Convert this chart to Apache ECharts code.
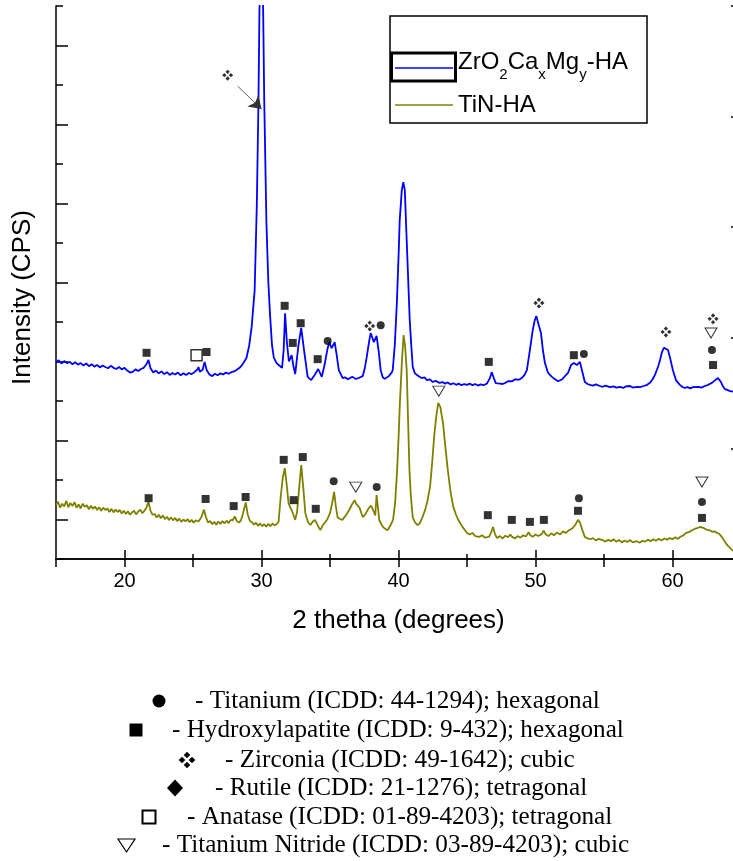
<!DOCTYPE html>
<html>
<head>
<meta charset="utf-8">
<script src="https://cdn.jsdelivr.net/npm/echarts@6/dist/echarts.min.js"></script>
<style>
html, body { margin: 0; padding: 0; background: #fff; width: 733px; height: 861px; overflow: hidden; }
/* the plot frame continues a few pixels past the right edge of the picture */
#chart { width: 741px; height: 861px; }
</style>
</head>
<body>
<div id="chart"></div>
<script>
// tick positions of the 2 theta axis
var xMajorTicks = [20, 30, 40, 50, 60];
var xMinorTicks = [25, 35, 45, 55];

// [2 theta, intensity], arbitrary intensity units
var zrPattern = [
  [15.0,4.98],[15.2,5.03],[15.4,4.95],[15.6,5.01],[15.8,4.96],[16.0,4.99],[16.2,4.93],[16.4,4.98],[16.6,4.92],[16.8,4.96],
  [17.0,4.90],[17.2,4.95],[17.4,4.88],[17.6,4.93],[17.8,4.87],[18.0,4.91],[18.2,4.85],[18.4,4.90],[18.6,4.86],[18.8,4.83],
  [19.0,4.89],[19.2,4.84],[19.4,4.81],[19.6,4.86],[19.8,4.80],[20.0,4.84],[20.2,4.77],[20.4,4.72],[20.6,4.74],[20.8,4.80],
  [21.0,4.76],[21.2,4.81],[21.4,4.84],[21.6,4.93],[21.75,5.04],[21.9,4.83],[22.1,4.72],[22.3,4.77],[22.5,4.70],[22.7,4.75],
  [22.9,4.68],[23.1,4.73],[23.3,4.66],[23.5,4.71],[23.7,4.67],[23.9,4.72],[24.1,4.65],[24.3,4.70],[24.5,4.66],[24.7,4.71],
  [24.9,4.68],[25.1,4.73],[25.3,4.79],[25.4,4.86],[25.5,4.74],[25.7,4.79],[25.85,4.99],[26.0,4.78],[26.2,4.67],[26.4,4.63],
  [26.6,4.69],[26.8,4.65],[27.0,4.70],[27.2,4.67],[27.4,4.72],[27.6,4.69],[27.8,4.73],[28.0,4.75],[28.2,4.79],[28.4,4.84],
  [28.6,4.92],[28.9,5.09],[29.1,5.40],[29.28,5.87],[29.5,6.80],[29.66,9.00],[29.78,11.6],[29.85,13.9],[30.0,15.5],[30.12,13.9],
  [30.2,11.6],[30.36,8.50],[30.5,7.00],[30.62,6.20],[30.77,5.40],[30.9,5.10],[31.1,4.96],[31.3,4.90],[31.5,4.84],[31.62,5.30],
  [31.72,6.22],[31.85,5.50],[32.0,5.00],[32.06,4.99],[32.2,5.16],[32.32,4.90],[32.46,4.68],[32.7,5.42],[32.9,5.85],[33.1,5.30],
  [33.37,4.61],[33.63,4.53],[33.88,4.66],[34.14,4.81],[34.4,4.61],[34.6,4.91],[34.8,5.29],[34.94,5.49],[35.12,5.34],[35.34,5.49],
  [35.49,5.16],[35.64,4.78],[35.93,4.58],[36.1,4.60],[36.3,4.55],[36.5,4.59],[36.66,4.61],[36.85,4.56],[37.02,4.57],[37.2,4.60],
  [37.39,4.63],[37.55,4.85],[37.68,5.11],[37.87,5.54],[37.97,5.72],[38.2,5.49],[38.4,5.65],[38.56,5.24],[38.7,4.78],[38.85,4.60],
  [39.0,4.56],[39.29,4.63],[39.5,4.72],[39.58,4.78],[39.73,5.42],[39.88,6.48],[40.02,7.82],[40.09,8.58],[40.24,9.34],[40.35,9.54],
  [40.46,9.34],[40.57,8.33],[40.68,7.32],[40.82,6.05],[40.93,5.42],[41.04,4.86],[41.2,4.70],[41.33,4.66],[41.5,4.62],[41.7,4.58],
  [41.9,4.60],[42.07,4.53],[42.3,4.55],[42.5,4.48],[42.7,4.51],[43.0,4.46],[43.2,4.48],[43.4,4.44],[43.6,4.47],[43.8,4.42],
  [44.0,4.45],[44.2,4.41],[44.4,4.44],[44.6,4.40],[44.8,4.43],[45.0,4.41],[45.2,4.44],[45.4,4.40],[45.6,4.43],[45.8,4.39],
  [46.0,4.42],[46.2,4.40],[46.45,4.44],[46.67,4.58],[46.8,4.73],[46.96,4.58],[47.1,4.45],[47.2,4.41],[47.4,4.44],[47.6,4.43],
  [47.8,4.46],[48.0,4.50],[48.13,4.53],[48.3,4.50],[48.5,4.55],[48.64,4.56],[48.8,4.54],[49.0,4.58],[49.2,4.66],[49.37,4.78],
  [49.59,5.29],[49.8,5.80],[49.95,6.05],[50.06,6.15],[50.24,5.92],[50.4,5.72],[50.54,5.29],[50.69,4.96],[50.9,4.73],[51.05,4.66],
  [51.2,4.61],[51.35,4.57],[51.49,4.53],[51.65,4.50],[51.78,4.48],[51.95,4.55],[52.15,4.63],[52.37,4.71],[52.59,4.91],[52.8,4.96],
  [53.02,4.91],[53.24,4.99],[53.39,4.78],[53.6,4.48],[53.8,4.43],[53.97,4.41],[54.2,4.39],[54.4,4.42],[54.7,4.38],[54.9,4.36],
  [55.1,4.39],[55.43,4.35],[55.7,4.37],[55.9,4.34],[56.16,4.36],[56.4,4.33],[56.6,4.37],[56.9,4.38],[57.1,4.34],[57.4,4.36],
  [57.62,4.35],[57.9,4.38],[58.1,4.40],[58.35,4.46],[58.55,4.55],[58.72,4.66],[58.94,4.86],[59.1,5.05],[59.23,5.24],[59.38,5.35],
  [59.52,5.39],[59.67,5.29],[59.81,5.11],[60.03,4.78],[60.25,4.53],[60.54,4.41],[60.7,4.36],[60.9,4.33],[61.1,4.35],[61.3,4.32],
  [61.5,4.35],[61.64,4.33],[61.9,4.36],[62.1,4.34],[62.37,4.38],[62.6,4.41],[62.88,4.46],[63.05,4.51],[63.18,4.53],[63.32,4.58],
  [63.45,4.54],[63.54,4.48],[63.7,4.36],[63.83,4.30],[64.0,4.28],[64.2,4.25],[64.56,4.23],[65.0,4.20]
];

var tinPattern = [
  [15.0,1.37],[15.15,1.45],[15.3,1.30],[15.45,1.40],[15.6,1.33],[15.75,1.47],[15.9,1.31],[16.05,1.42],[16.2,1.34],[16.35,1.44],
  [16.5,1.30],[16.65,1.38],[16.8,1.28],[16.95,1.40],[17.1,1.32],[17.25,1.36],[17.4,1.26],[17.55,1.35],[17.7,1.27],[17.85,1.33],
  [18.0,1.24],[18.15,1.31],[18.3,1.22],[18.45,1.30],[18.6,1.24],[18.75,1.28],[18.9,1.19],[19.05,1.27],[19.2,1.18],[19.35,1.25],
  [19.5,1.19],[19.65,1.24],[19.8,1.15],[19.95,1.22],[20.1,1.14],[20.25,1.21],[20.4,1.12],[20.55,1.18],[20.7,1.22],[20.85,1.13],
  [21.0,1.20],[21.15,1.25],[21.3,1.16],[21.45,1.22],[21.6,1.30],[21.75,1.45],[21.9,1.22],[22.05,1.12],[22.2,1.14],[22.35,1.05],
  [22.5,1.12],[22.65,1.03],[22.8,1.10],[22.95,1.01],[23.1,1.07],[23.25,0.99],[23.4,1.05],[23.55,0.98],[23.7,1.04],[23.85,0.96],
  [24.0,1.02],[24.15,0.94],[24.3,1.00],[24.45,0.95],[24.6,1.01],[24.75,0.93],[24.9,0.99],[25.05,0.92],[25.2,0.98],[25.4,0.95],
  [25.6,1.05],[25.8,1.25],[25.95,1.05],[26.1,0.92],[26.25,0.96],[26.4,0.88],[26.55,0.94],[26.7,0.87],[26.85,0.95],[27.0,0.89],
  [27.15,0.96],[27.3,0.90],[27.45,0.97],[27.6,0.91],[27.75,0.99],[27.9,0.98],[28.05,1.08],[28.2,0.96],[28.35,0.92],[28.5,0.98],
  [28.65,1.15],[28.85,1.43],[29.0,1.12],[29.15,0.97],[29.3,0.93],[29.45,0.87],[29.6,0.92],[29.75,0.84],[29.9,0.90],[30.05,0.83],
  [30.2,0.88],[30.35,0.82],[30.5,0.89],[30.65,0.83],[30.8,0.90],[30.95,0.85],[31.1,0.88],[31.25,0.95],[31.4,1.57],[31.55,2.05],
  [31.7,2.30],[31.85,1.85],[31.97,1.42],[32.1,1.30],[32.2,1.24],[32.35,1.10],[32.46,0.99],[32.6,1.20],[32.75,1.80],[32.9,2.38],
  [33.05,1.80],[33.2,1.16],[33.4,0.93],[33.57,0.86],[33.75,0.95],[33.9,0.99],[34.1,0.85],[34.3,0.73],[34.45,0.84],[34.6,0.91],
  [34.8,1.00],[35.0,1.16],[35.15,1.40],[35.3,1.70],[35.42,1.35],[35.55,1.06],[35.7,1.02],[35.9,0.99],[36.1,1.08],[36.25,1.15],
  [36.4,1.24],[36.6,1.38],[36.8,1.49],[36.9,1.40],[37.0,1.45],[37.15,1.30],[37.3,1.15],[37.4,1.06],[37.55,1.12],[37.68,1.16],
  [37.85,1.30],[38.0,1.35],[38.1,1.37],[38.2,1.20],[38.3,1.10],[38.4,1.62],[38.5,1.30],[38.6,0.98],[38.75,0.88],[38.9,0.80],
  [39.05,0.76],[39.2,0.73],[39.4,0.84],[39.6,0.99],[39.75,1.40],[39.9,2.25],[40.02,3.20],[40.1,3.95],[40.25,5.00],[40.37,5.67],
  [40.48,5.40],[40.6,4.78],[40.7,3.50],[40.8,2.25],[40.9,1.60],[41.04,1.06],[41.2,0.93],[41.4,0.86],[41.55,0.90],[41.75,1.06],
  [41.95,1.25],[42.1,1.45],[42.3,1.82],[42.45,2.40],[42.6,3.09],[42.75,3.60],[42.9,3.95],[43.05,3.85],[43.25,3.44],[43.4,2.90],
  [43.6,2.25],[43.8,1.70],[44.0,1.32],[44.2,1.12],[44.35,1.00],[44.5,0.91],[44.7,0.80],[45.0,0.66],[45.2,0.62],[45.4,0.66],
  [45.6,0.58],[45.9,0.56],[46.1,0.60],[46.3,0.54],[46.6,0.56],[46.75,0.66],[46.9,0.81],[47.05,0.62],[47.2,0.53],[47.4,0.58],
  [47.6,0.52],[47.8,0.59],[48.0,0.55],[48.15,0.62],[48.3,0.56],[48.5,0.52],[48.7,0.58],[48.9,0.54],[49.1,0.60],[49.3,0.57],
  [49.5,0.68],[49.6,0.61],[49.8,0.56],[50.0,0.62],[50.2,0.58],[50.45,0.63],[50.6,0.72],[50.75,0.62],[50.95,0.58],[51.15,0.65],
  [51.35,0.60],[51.55,0.67],[51.8,0.62],[52.0,0.70],[52.2,0.66],[52.45,0.73],[52.7,0.78],[52.9,0.86],[53.1,0.99],[53.25,0.92],
  [53.4,0.75],[53.6,0.56],[53.8,0.52],[54.0,0.50],[54.2,0.53],[54.4,0.47],[54.6,0.51],[54.9,0.48],[55.1,0.44],[55.3,0.49],
  [55.5,0.45],[55.7,0.50],[55.9,0.44],[56.1,0.48],[56.3,0.42],[56.5,0.47],[56.7,0.43],[56.9,0.48],[57.1,0.42],[57.4,0.45],
  [57.6,0.41],[57.8,0.46],[58.0,0.44],[58.2,0.49],[58.4,0.45],[58.6,0.50],[58.8,0.46],[59.0,0.51],[59.2,0.47],[59.4,0.52],
  [59.6,0.49],[59.8,0.53],[60.0,0.50],[60.2,0.55],[60.4,0.51],[60.6,0.57],[60.8,0.60],[61.0,0.66],[61.2,0.68],[61.4,0.72],
  [61.6,0.76],[61.8,0.78],[62.0,0.81],[62.15,0.80],[62.3,0.78],[62.5,0.74],[62.7,0.73],[62.9,0.69],[63.1,0.70],[63.25,0.66],
  [63.4,0.64],[63.6,0.56],[63.8,0.45],[64.0,0.35],[64.2,0.28],[64.35,0.23],[64.6,0.17],[65.0,0.10]
];

// phase markers placed over the peaks
var titaniumMarks = [[34.83,5.52],[38.70,5.92],[53.53,5.19],[62.88,5.29],[35.27,1.97],[38.41,1.82],[53.17,1.54],[62.15,1.44]];
var hapMarks = [[21.61,5.22],[25.99,5.24],[31.69,6.41],[32.28,5.47],[32.86,5.97],[34.10,5.06],[46.59,4.99],[52.80,5.16],[62.96,4.91],
  [21.76,1.54],[25.92,1.52],[27.97,1.34],[28.84,1.57],[31.62,2.51],[33.01,2.58],[32.35,1.49],[33.96,1.27],
  [46.52,1.11],[48.27,0.99],[49.59,0.94],[50.61,0.99],[53.10,1.22],[62.15,1.04]];
var zirconiaMarks = [[27.53,12.25],[37.90,5.90],[50.25,6.48],[59.52,5.75],[62.96,6.08]];
var anataseMarks = [[25.26,5.16]];
var nitrideMarks = [[62.81,5.72],[36.88,1.82],[42.94,4.25],[62.15,1.95]];
var arrowFrom = [28.26, 11.97];
var arrowTo = [30.0, 11.39];

var seriesNames = ['ZrO2CaxMgy-HA', 'TiN-HA'];
var phaseTexts = [
  '- Titanium (ICDD: 44-1294); hexagonal',
  '- Hydroxylapatite (ICDD: 9-432); hexagonal',
  '- Zirconia (ICDD: 49-1642); cubic',
  '- Rutile (ICDD: 21-1276); tetragonal',
  '- Anatase (ICDD: 01-89-4203); tetragonal',
  '- Titanium Nitride (ICDD: 03-89-4203); cubic'
];

var sans = '"Liberation Sans", Arial, sans-serif';
var serif = '"Liberation Serif", "Times New Roman", serif';
var zrPath = 'M5,0L7,2L5,4L3,2Z M0,5L2,3L4,5L2,7Z M6,5L8,3L10,5L8,7Z M5,6L7,8L5,10L3,8Z';
var black = { color: '#000', width: 1.5 };

var chart = echarts.init(document.getElementById('chart'));

function markSeries(name, data, symbol, size, style, extra) {
  var s = {
    type: 'scatter', name: name, data: data, symbol: symbol, symbolSize: size,
    itemStyle: style, silent: true, z: 5, xAxisIndex: 0, yAxisIndex: 0
  };
  for (var k in extra) s[k] = extra[k];
  return s;
}

function legendText(x, y, text, font, rich) {
  return {
    type: 'text', z: 20,
    style: { x: x, y: y, text: text, font: font, fill: '#000', rich: rich,
      align: 'left', textAlign: 'left', verticalAlign: rich ? 'top' : 'middle', textVerticalAlign: rich ? 'top' : 'middle' }
  };
}

// small diamond for the zirconia key symbol
function dot(cx, cy, h) {
  return { type: 'polygon', z: 20, shape: { points: [[cx, cy - h], [cx + h, cy], [cx, cy + h], [cx - h, cy]] }, style: { fill: '#000' } };
}

var rowY = [701, 730, 760, 788, 817, 845];
var textX = [195, 172, 225, 215, 187, 162];

var option = {
  animation: false,
  backgroundColor: '#fff',
  grid: [
    { left: 56, right: 0, top: 6, bottom: 302 },
    { left: 56, right: 0, top: 6, bottom: 302 }
  ],
  xAxis: [
    {
      gridIndex: 0, type: 'value', position: 'bottom', min: 15, max: 65, interval: 5,
      axisLine: { lineStyle: black },
      axisTick: { inside: true, length: 9, customValues: xMajorTicks, lineStyle: black },
      axisLabel: { customValues: xMajorTicks, margin: 12, color: '#000', fontSize: 20, fontFamily: sans,
        formatter: function (v) { return v % 10 === 0 ? String(v) : ''; } },
      splitLine: { show: false },
      name: '2 thetha (degrees)', nameLocation: 'middle', nameGap: 49,
      nameTextStyle: { color: '#000', fontSize: 26, fontFamily: sans }
    },
    {
      gridIndex: 0, type: 'value', position: 'top', min: 15, max: 65, interval: 5,
      axisLine: { lineStyle: black },
      axisTick: { inside: true, length: 8, lineStyle: black },
      axisLabel: { show: false }, splitLine: { show: false }
    },
    {
      gridIndex: 1, type: 'value', position: 'bottom', min: 15, max: 65, interval: 5,
      axisLine: { show: false },
      axisTick: { inside: true, length: 5, customValues: xMinorTicks, lineStyle: black },
      axisLabel: { show: false }, splitLine: { show: false }
    }
  ],
  yAxis: [
    {
      gridIndex: 0, type: 'value', position: 'left', min: 0, max: 14, interval: 2,
      axisLine: { lineStyle: black },
      axisTick: { inside: true, length: 7, lineStyle: black },
      minorTick: { show: true, splitNumber: 2, length: 12, lineStyle: black },
      axisLabel: { show: false }, splitLine: { show: false }, minorSplitLine: { show: false },
      name: 'Intensity (CPS)', nameLocation: 'middle', nameGap: 20,
      nameTextStyle: { color: '#000', fontSize: 26, fontFamily: sans, padding: [0, 30, 0, 0] }
    },
    {
      gridIndex: 0, type: 'value', position: 'right', min: 0, max: 5, interval: 1,
      axisLine: { lineStyle: black },
      axisTick: { inside: true, length: 10, lineStyle: black },
      axisLabel: { show: false }, splitLine: { show: false }
    },
    { gridIndex: 1, type: 'value', min: 0, max: 14, show: false }
  ],
  series: [
    {
      type: 'line', name: seriesNames[0], data: zrPattern, showSymbol: false, symbol: 'none',
      xAxisIndex: 0, yAxisIndex: 0, clip: true, silent: true,
      lineStyle: { color: '#0000ff', width: 1.8 }
    },
    {
      type: 'line', name: seriesNames[1], data: tinPattern, showSymbol: false, symbol: 'none',
      xAxisIndex: 0, yAxisIndex: 0, clip: true, silent: true,
      lineStyle: { color: '#808000', width: 1.8 }
    },
    markSeries('Titanium', titaniumMarks, 'circle', 8, { color: '#000' }),
    markSeries('Hydroxylapatite', hapMarks, 'rect', 8, { color: '#000' }),
    markSeries('Zirconia', zirconiaMarks, 'path://' + zrPath, 11, { color: '#000' }, {
      markLine: {
        silent: true, symbol: ['none', 'arrow'], symbolSize: 12, z: 10,
        label: { show: false },
        lineStyle: { color: '#333', width: 0.8, type: 'solid' },
        data: [[{ coord: arrowFrom }, { coord: arrowTo }]]
      }
    }),
    markSeries('Anatase', anataseMarks, 'rect', 11, { color: '#fff', borderColor: '#000', borderWidth: 1.5 }),
    markSeries('Titanium Nitride', nitrideMarks, 'triangle', [12, 10], { color: '#fff', borderColor: '#000', borderWidth: 1 }, { symbolRotate: 180 })
  ],
  graphic: [
    // plot legend
    { type: 'rect', z: 20, shape: { x: 390, y: 16, width: 257, height: 107 }, style: { fill: 'rgba(0,0,0,0)', stroke: '#000', lineWidth: 1.5 } },
    { type: 'rect', z: 20, shape: { x: 391.5, y: 53, width: 64, height: 28 }, style: { fill: 'rgba(0,0,0,0)', stroke: '#000', lineWidth: 3 } },
    { type: 'line', z: 20, shape: { x1: 395, y1: 68, x2: 453, y2: 68 }, style: { stroke: '#0000ff', lineWidth: 1.5 } },
    { type: 'line', z: 20, shape: { x1: 395, y1: 105, x2: 453, y2: 105 }, style: { stroke: '#808000', lineWidth: 1.5 } },
    legendText(458, 50, '{m|ZrO}{s|2}{m|Ca}{s|x}{m|Mg}{s|y}{m|-HA}', '24px ' + sans, {
      m: { fontSize: 24, fontFamily: sans, lineHeight: 32, verticalAlign: 'top', fill: '#000' },
      s: { fontSize: 15, fontFamily: sans, lineHeight: 4, verticalAlign: 'bottom', fill: '#000' }
    }),
    legendText(458, 105.5, seriesNames[1], '24px ' + sans),
    // phase key below the plot
    { type: 'circle', z: 20, shape: { cx: 159, cy: rowY[0], r: 6.5 }, style: { fill: '#000' } },
    { type: 'rect', z: 20, shape: { x: 129.5, y: rowY[1] - 6.5, width: 13, height: 13 }, style: { fill: '#000' } },
    dot(187, rowY[2] - 5, 3.3), dot(182, rowY[2], 3.3), dot(192, rowY[2], 3.3), dot(187, rowY[2] + 5, 3.3),
    { type: 'polygon', z: 20, shape: { points: [[175, rowY[3] - 8.5], [183, rowY[3]], [175, rowY[3] + 8.5], [167, rowY[3]]] }, style: { fill: '#000' } },
    { type: 'rect', z: 20, shape: { x: 142.5, y: rowY[4] - 6.5, width: 13, height: 13 }, style: { fill: '#fff', stroke: '#000', lineWidth: 2 } },
    { type: 'polygon', z: 20, shape: { points: [[118, rowY[5] - 6], [135, rowY[5] - 6], [126.5, rowY[5] + 7]] }, style: { fill: '#fff', stroke: '#000', lineWidth: 1.2 } }
  ].concat(phaseTexts.map(function (t, i) { return legendText(textX[i], rowY[i], t, '25.2px ' + serif); }))
};

chart.setOption(option);
</script>
</body>
</html>
